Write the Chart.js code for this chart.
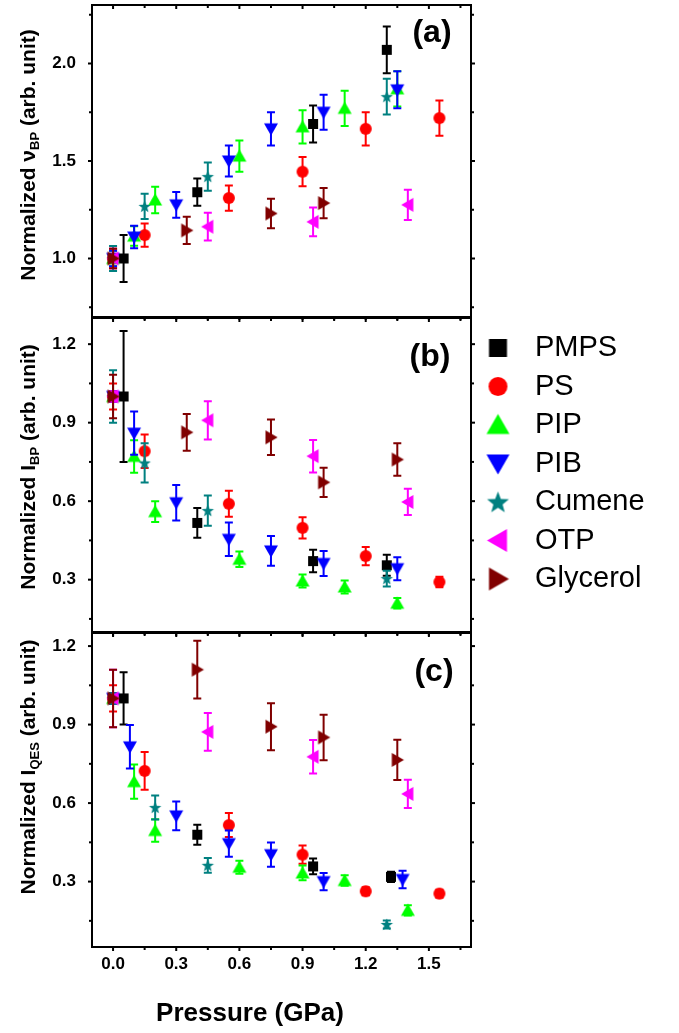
<!DOCTYPE html>
<html>
<head>
<meta charset="utf-8">
<script src="https://cdn.jsdelivr.net/npm/chart.js@4"></script>
<style>
  body { margin: 0; background: #fff; overflow: hidden; }
  #wrap { position: relative; width: 679px; height: 1033px; }
  canvas { position: absolute; left: 0; }
</style>
</head>
<body>
<div id="wrap">
  <canvas id="pa" style="top:0px" width="679" height="320"></canvas>
  <canvas id="pb" style="top:316px" width="679" height="320"></canvas>
  <canvas id="pc" style="top:631px" width="679" height="402"></canvas>
</div>
<script>
// series
const names  = ["PMPS", "PS", "PIP", "PIB", "Cumene", "OTP", "Glycerol"];
const colors = ["#000000", "#ff0000", "#00ff00", "#0000ff", "#008080", "#ff00ff", "#800000"];
const shapes = ["square", "circle", "up", "down", "star", "left", "right"];

// axis ticks
const xTicks   = [0.0, 0.3, 0.6, 0.9, 1.2, 1.5];
const xMinor   = [0.15, 0.45, 0.75, 1.05, 1.35, 1.65];
const yTicksA  = [1.0, 1.5, 2.0];
const yMinorA  = [0.75, 1.25, 1.75, 2.25];
const yTicksBC = [0.3, 0.6, 0.9, 1.2];
const yMinorBC = [0.15, 0.45, 0.75, 1.05];

// (a) normalized nu_BP : pressure / value / error
const aPMPS_p = [0.05, 0.40, 0.95, 1.30];
const aPMPS_v = [1.00, 1.34, 1.69, 2.07];
const aPMPS_e = [0.12, 0.07, 0.095, 0.12];
const aPS_p = [0, 0.15, 0.55, 0.90, 1.20, 1.55];
const aPS_v = [1.0, 1.12, 1.31, 1.445, 1.665, 1.72];
const aPS_e = [0.05, 0.06, 0.065, 0.075, 0.085, 0.09];
const aPIP_p = [0, 0.10, 0.20, 0.60, 0.90, 1.10, 1.35];
const aPIP_v = [1.0, 1.115, 1.30, 1.525, 1.675, 1.77, 1.87];
const aPIP_e = [0.04, 0.05, 0.068, 0.08, 0.085, 0.09, 0.09];
const aPIB_p = [0, 0.10, 0.30, 0.55, 0.75, 1.00, 1.35];
const aPIB_v = [1.0, 1.11, 1.275, 1.50, 1.665, 1.75, 1.865];
const aPIB_e = [0.04, 0.058, 0.066, 0.08, 0.085, 0.09, 0.095];
const aCum_p = [0, 0.15, 0.45, 1.30];
const aCum_v = [1.0, 1.267, 1.42, 1.83];
const aCum_e = [0.064, 0.065, 0.072, 0.092];
const aOTP_p = [0, 0.45, 0.95, 1.40];
const aOTP_v = [1.0, 1.163, 1.188, 1.275];
const aOTP_e = [0.05, 0.071, 0.074, 0.078];
const aGly_p = [0, 0.35, 0.75, 1.00];
const aGly_v = [1.0, 1.144, 1.231, 1.284];
const aGly_e = [0.05, 0.07, 0.076, 0.078];

// (b) normalized I_BP
const bPMPS_p = [0.05, 0.40, 0.95, 1.30];
const bPMPS_v = [1.0, 0.517, 0.371, 0.355];
const bPMPS_e = [0.25, 0.057, 0.043, 0.04];
const bPS_p = [0, 0.15, 0.55, 0.90, 1.20, 1.55];
const bPS_v = [1.0, 0.791, 0.59, 0.498, 0.39, 0.291];
const bPS_e = [0.05, 0.064, 0.05, 0.041, 0.035, 0.02];
const bPIP_p = [0, 0.10, 0.20, 0.60, 0.90, 1.10, 1.35];
const bPIP_v = [1.0, 0.771, 0.56, 0.378, 0.295, 0.272, 0.21];
const bPIP_e = [0.02, 0.062, 0.04, 0.03, 0.025, 0.025, 0.02];
const bPIB_p = [0, 0.10, 0.30, 0.55, 0.75, 1.00, 1.35];
const bPIB_v = [1.0, 0.86, 0.594, 0.454, 0.41, 0.362, 0.342];
const bPIB_e = [0.02, 0.083, 0.068, 0.064, 0.057, 0.048, 0.044];
const bCum_p = [0, 0.15, 0.45, 1.30];
const bCum_v = [1.0, 0.746, 0.564, 0.304];
const bCum_e = [0.10, 0.075, 0.058, 0.03];
const bOTP_p = [0, 0.45, 0.95, 1.40];
const bOTP_v = [1.0, 0.909, 0.772, 0.597];
const bOTP_e = [0.02, 0.073, 0.062, 0.05];
const bGly_p = [0, 0.35, 0.75, 1.00, 1.35];
const bGly_v = [1.0, 0.863, 0.844, 0.672, 0.759];
const bGly_e = [0.083, 0.07, 0.068, 0.056, 0.062];

// (c) normalized I_QES
const cPMPS_p = [0.05, 0.40, 0.95, 1.32];
const cPMPS_v = [1.0, 0.479, 0.358, 0.318];
const cPMPS_e = [0.10, 0.038, 0.03, 0.02];
const cPS_p = [0, 0.15, 0.55, 0.90, 1.20, 1.55];
const cPS_v = [1.0, 0.723, 0.516, 0.403, 0.263, 0.254];
const cPS_e = [0.05, 0.072, 0.046, 0.035, 0.015, 0.015];
const cPIP_p = [0, 0.10, 0.20, 0.60, 0.90, 1.10, 1.40];
const cPIP_v = [1.0, 0.682, 0.495, 0.355, 0.333, 0.304, 0.19];
const cPIP_e = [0.02, 0.065, 0.043, 0.025, 0.028, 0.02, 0.02];
const cPIB_p = [0, 0.08, 0.30, 0.55, 0.75, 1.00, 1.375];
const cPIB_v = [1.0, 0.815, 0.551, 0.445, 0.403, 0.30, 0.308];
const cPIB_e = [0.02, 0.083, 0.055, 0.05, 0.046, 0.033, 0.033];
const cCum_p = [0, 0.20, 0.45, 1.30];
const cCum_v = [1.0, 0.583, 0.362, 0.136];
const cCum_e = [0.02, 0.046, 0.028, 0.015];
const cOTP_p = [0, 0.45, 0.95, 1.40];
const cOTP_v = [1.0, 0.872, 0.777, 0.635];
const cOTP_e = [0.11, 0.072, 0.064, 0.054];
const cGly_p = [0, 0.40, 0.75, 1.00, 1.35];
const cGly_v = [1.0, 1.11, 0.892, 0.851, 0.765];
const cGly_e = [0.11, 0.11, 0.09, 0.087, 0.077];

const FONT = "'Liberation Sans', Arial, sans-serif";

// marker images (filled shapes like the Origin symbols)
function makeMarker(shape, color, size, boxW, shift) {
  const c = document.createElement("canvas");
  const s = Math.ceil(size) + 2;
  c.width = boxW || s; c.height = s;
  const g = c.getContext("2d");
  const mx = c.width / 2 + (shift || 0), m = s / 2, r = size / 2, h = size * 0.87;
  g.fillStyle = color;
  g.beginPath();
  if (shape === "square") {
    g.rect(mx - r, m - r, size, size);
  } else if (shape === "circle") {
    g.arc(mx, m, r, 0, Math.PI * 2);
  } else if (shape === "star") {
    for (let k = 0; k < 10; k++) {
      const rr = k % 2 ? r * 0.42 : r;
      const a = -Math.PI / 2 + k * Math.PI / 5;
      g.lineTo(mx + rr * Math.cos(a), m + rr * Math.sin(a) + r * 0.08);
    }
  } else {
    let pts = [[0, -0.55 * h], [r, 0.45 * h], [-r, 0.45 * h]];
    if (shape === "down") pts = pts.map(p => [p[0], -p[1]]);
    if (shape === "left") pts = pts.map(p => [p[1], p[0]]);
    if (shape === "right") pts = pts.map(p => [-p[1], p[0]]);
    pts.forEach(p => g.lineTo(mx + p[0], m + p[1]));
  }
  g.closePath();
  g.fill();
  return c;
}
const pointSizes  = [10, 12, 14, 14, 13, 14, 14];
const legendSizes = [18, 19, 23, 23, 23, 23, 23];
const pointMarks  = shapes.map((s, i) => makeMarker(s, colors[i], pointSizes[i]));
const legendMarks = shapes.map((s, i) => makeMarker(s, colors[i], legendSizes[i], 40, -2.5));

function series(i, p, v, e) {
  return {
    label: names[i],
    data: p.map((x, k) => ({ x: x, y: v[k] })),
    err: e,
    barColor: colors[i],
    backgroundColor: colors[i],
    borderColor: colors[i],
    pointStyle: pointMarks[i],
    pointRadius: 7,
    showLine: false,
    order: 6 - i
  };
}

// error bars, drawn just before each dataset's symbols
const errorBars = {
  id: "errorBars",
  beforeDatasetDraw(chart, args) {
    const ds = chart.data.datasets[args.index];
    if (!ds.err) return;
    const ys = chart.scales.y, ctx = chart.ctx;
    ctx.save();
    ctx.strokeStyle = ds.barColor;
    ctx.lineWidth = 2;
    args.meta.data.forEach((pt, i) => {
      const v = ds.data[i].y, e = ds.err[i];
      const y1 = ys.getPixelForValue(v + e), y2 = ys.getPixelForValue(v - e);
      ctx.beginPath();
      ctx.moveTo(pt.x, y1); ctx.lineTo(pt.x, y2);
      ctx.moveTo(pt.x - 4, y1); ctx.lineTo(pt.x + 4, y1);
      ctx.moveTo(pt.x - 4, y2); ctx.lineTo(pt.x + 4, y2);
      ctx.stroke();
    });
    ctx.restore();
  }
};

// frame, outer ticks, panel label, y title with subscript
const deco = {
  id: "deco",
  afterDraw(chart, args, o) {
    const { ctx, chartArea: a, scales } = chart;
    const xs = scales.x, ys = scales.y;
    ctx.save();
    ctx.strokeStyle = "#000";
    ctx.lineWidth = 2;
    ctx.strokeRect(a.left, a.top, a.right - a.left, a.bottom - a.top);
    const seg = (x1, y1, x2, y2) => { ctx.beginPath(); ctx.moveTo(x1, y1); ctx.lineTo(x2, y2); ctx.stroke(); };
    const xt = (list, len) => list.forEach(v => {
      const px = xs.getPixelForValue(v);
      seg(px, a.bottom, px, a.bottom + len);
      seg(px, a.top, px, a.top + len);
    });
    const yt = (list, len) => list.forEach(v => {
      const py = ys.getPixelForValue(v);
      seg(a.left - len, py, a.left, py);
      seg(a.right, py, a.right + len, py);
    });
    xt(xTicks, 4); xt(xMinor, 3);
    yt(o.yMajor, 4); yt(o.yMinor, 3);

    ctx.fillStyle = "#000";
    ctx.font = "bold 32px " + FONT;
    ctx.textAlign = "center";
    ctx.textBaseline = "middle";
    ctx.fillText(o.label, o.lx, o.ly);

    if (o.xTitle) {
      ctx.font = "bold 26px " + FONT;
      ctx.fillText(o.xTitle, o.xtx, o.xty);
    }

    // rotated y title
    const mainF = "bold 21px " + FONT, subF = "bold 13px " + FONT;
    let total = 0;
    o.yTitle.forEach(part => { ctx.font = part[1] ? subF : mainF; total += ctx.measureText(part[0]).width; });
    ctx.translate(29, o.ty);
    ctx.rotate(-Math.PI / 2);
    ctx.textAlign = "left";
    ctx.textBaseline = "middle";
    let cx = -total / 2;
    o.yTitle.forEach(part => {
      ctx.font = part[1] ? subF : mainF;
      ctx.fillText(part[0], cx, part[1] ? 6 : 0);
      cx += ctx.measureText(part[0]).width;
    });
    ctx.restore();
  }
};

function yScale(min, max, ticks) {
  return {
    type: "linear", min: min, max: max,
    grid: { display: false }, border: { display: false },
    afterBuildTicks: s => { s.ticks = ticks.map(v => ({ value: v })); },
    afterFit: s => { s.width = 92; s.paddingTop = 0; s.paddingBottom = 0; },
    ticks: { padding: 8, color: "#000", font: { family: FONT, size: 17, weight: "bold" },
             callback: v => v.toFixed(1) }
  };
}
function xScale(show) {
  const sc = {
    type: "linear", min: -0.1, max: 1.7, display: show,
    grid: { display: false, drawTicks: false }, border: { display: false },
    afterBuildTicks: s => { s.ticks = xTicks.map(v => ({ value: v })); },
    ticks: { padding: 7, color: "#000", font: { family: FONT, size: 17, weight: "bold" },
             callback: v => v.toFixed(1) }
  };
  if (show) sc.afterFit = s => { s.height = 86; s.paddingLeft = 0; s.paddingRight = 0; };
  return sc;
}

new Chart(document.getElementById("pa"), {
  type: "scatter",
  data: { datasets: [
    series(0, aPMPS_p, aPMPS_v, aPMPS_e), series(1, aPS_p, aPS_v, aPS_e),
    series(2, aPIP_p, aPIP_v, aPIP_e), series(3, aPIB_p, aPIB_v, aPIB_e),
    series(4, aCum_p, aCum_v, aCum_e), series(5, aOTP_p, aOTP_v, aOTP_e),
    series(6, aGly_p, aGly_v, aGly_e)] },
  options: {
    responsive: false, animation: false,
    layout: { autoPadding: false, padding: { left: 0, right: 208, top: 5, bottom: 3 } },
    scales: { x: xScale(false), y: yScale(0.7, 2.3, yTicksA) },
    plugins: {
      legend: { display: false }, tooltip: { enabled: false },
      deco: { label: "(a)", lx: 432, ly: 33, yMajor: yTicksA, yMinor: yMinorA, ty: 155,
              yTitle: [["Normalized \u03bd", false], ["BP", true], [" (arb. unit)", false]] }
    }
  },
  plugins: [errorBars, deco]
});

const chartB = new Chart(document.getElementById("pb"), {
  type: "scatter",
  data: { datasets: [
    series(0, bPMPS_p, bPMPS_v, bPMPS_e), series(1, bPS_p, bPS_v, bPS_e),
    series(2, bPIP_p, bPIP_v, bPIP_e), series(3, bPIB_p, bPIB_v, bPIB_e),
    series(4, bCum_p, bCum_v, bCum_e), series(5, bOTP_p, bOTP_v, bOTP_e),
    series(6, bGly_p, bGly_v, bGly_e)] },
  options: {
    responsive: false, animation: false,
    layout: { autoPadding: false, padding: { left: 0, right: 0, top: 2, bottom: 4 } },
    scales: { x: xScale(false), y: yScale(0.1, 1.3, yTicksBC) },
    plugins: {
      tooltip: { enabled: false },
      legend: {
        display: true, position: "right", align: "start", maxWidth: 400,
        title: { display: true, text: " ", font: { size: 5 }, padding: 0 },
        labels: {
          usePointStyle: true, pointStyleWidth: 40, boxHeight: 29,
          padding: 9.5, color: "#000",
          font: { family: FONT, size: 29 },
          generateLabels: ch => ch.data.datasets.map((ds, i) => ({
            text: ds.label, pointStyle: legendMarks[i], fillStyle: colors[i],
            strokeStyle: colors[i], lineWidth: 0, hidden: false, datasetIndex: i, fontColor: "#000"
          }))
        }
      },
      deco: { label: "(b)", lx: 430, ly: 41, yMajor: yTicksBC, yMinor: yMinorBC, ty: 151,
              yTitle: [["Normalized I", false], ["BP", true], [" (arb. unit)", false]] }
    }
  },
  plugins: [errorBars, deco]
});
// keep the plot box right edge aligned with the other panels
for (let k = 0; k < 4; k++) {
  const dx = chartB.chartArea.right - 471;
  if (Math.abs(dx) < 0.5) break;
  chartB.options.layout.padding.right = Math.max(0, chartB.options.layout.padding.right + dx);
  chartB.update();
}

new Chart(document.getElementById("pc"), {
  type: "scatter",
  data: { datasets: [
    series(0, cPMPS_p, cPMPS_v, cPMPS_e), series(1, cPS_p, cPS_v, cPS_e),
    series(2, cPIP_p, cPIP_v, cPIP_e), series(3, cPIB_p, cPIB_v, cPIB_e),
    series(4, cCum_p, cCum_v, cCum_e), series(5, cOTP_p, cOTP_v, cOTP_e),
    series(6, cGly_p, cGly_v, cGly_e)] },
  options: {
    responsive: false, animation: false,
    layout: { autoPadding: false, padding: { left: 0, right: 208, top: 2, bottom: 0 } },
    scales: { x: xScale(true), y: yScale(0.05, 1.25, yTicksBC) },
    plugins: {
      legend: { display: false }, tooltip: { enabled: false },
      deco: { label: "(c)", lx: 434, ly: 41, yMajor: yTicksBC, yMinor: yMinorBC, ty: 136,
              xTitle: "Pressure (GPa)", xtx: 250, xty: 383,
              yTitle: [["Normalized I", false], ["QES", true], [" (arb. unit)", false]] }
    }
  },
  plugins: [errorBars, deco]
});
</script>
</body>
</html>
